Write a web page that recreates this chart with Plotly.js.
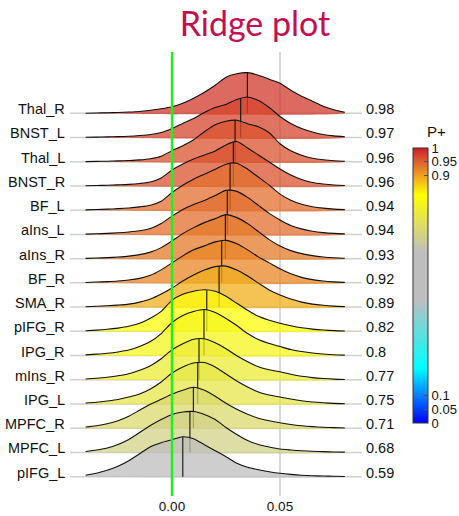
<!DOCTYPE html>
<html>
<head>
<meta charset="utf-8">
<script src="https://cdn.plot.ly/plotly-3.0.1.min.js"></script>
<style>html,body{margin:0;padding:0;background:#fff;}#chart{width:459px;height:516px;}</style>
</head>
<body>
<div id="chart"></div>
<script>
// ---- data ----
const categories = ['Thal_R','BNST_L','Thal_L','BNST_R','BF_L','aIns_L','aIns_R','BF_R','SMA_R','pIFG_R','IPG_R','mIns_R','IPG_L','MPFC_R','MPFC_L','pIFG_L'];
const pPlus = [0.98,0.97,0.96,0.96,0.94,0.94,0.93,0.92,0.89,0.82,0.8,0.77,0.75,0.71,0.68,0.59];
const pLabels = ['0.98','0.97','0.96','0.96','0.94','0.94','0.93','0.92','0.89','0.82','0.8','0.77','0.75','0.71','0.68','0.59'];
const medians = [0.0349,0.0318,0.0292,0.0284,0.0269,0.0256,0.0247,0.0230,0.0218,0.0161,0.0148,0.0125,0.0119,0.0099,0.0083,0.0050];
const xGrid = [-0.04,-0.035,-0.03,-0.025,-0.02,-0.015,-0.01,-0.005,0,0.005,0.01,0.015,0.02,0.025,0.03,0.035,0.04,0.045,0.05,0.055,0.06,0.065,0.07,0.075,0.08];

const dens_Thal_R = [0,0.3,0.5,0.8,1.2,1.8,3,4.5,6.5,10,15,21,28,36,39.5,40.6,38,34,30,23,17,12,7,3.5,1];
const dens_BNST_L = [0.2,0.4,0.6,0.9,1.3,2,3,5,9,14,19,25,30,33,38,40.5,37,30,21,14,9,5.5,3,1.6,0.8];
const dens_Thal_L = [0.1,0.3,0.5,0.8,1.2,1.8,3,5.5,11,16,22,30,37,40.5,41.5,38,35,29,18,11,6.5,3.5,2,1,0.5];
const dens_BNST_R = [0.2,0.4,0.7,1.1,1.6,2.5,4,8,16,22,27,31,35,41,44.5,38,31,24,17,11,6.5,3.5,2,1,0.5];
const dens_BF_L   = [0.3,0.6,1,1.5,2.2,3.3,5,9,17.7,25,31,36,41,46,47,41,33,25,16,10,6,3.5,2,1,0.5];
const dens_aIns_L = [0.3,0.6,1,1.6,2.4,3.6,6,11,18.3,25,30,34,39,44,43,37,29,21,14.5,9,5.5,3.2,1.8,1,0.5];
const dens_aIns_R = [0.3,0.6,1,1.6,2.5,4,6.5,11,17.7,25,31,36,40,44,41,35,27,19,12.6,8,5,3,1.7,0.9,0.4];
const dens_BF_R   = [0.4,0.8,1.2,1.8,2.8,4.5,7.5,13,20,27,33,37,41,42.5,39,33,26,20,14,9,5.5,3.2,1.8,1,0.5];
const dens_SMA_R  = [0.4,0.8,1.3,2,3,5,8,13,19,26,32,37,40.5,41,37,31,24,17,12,8,5,3,1.8,1,0.5];
const dens_pIFG_R = [0.6,1.2,2,3.2,5,8,13,20,31,37,40,41.5,40,35,28,21,15,11,8,5.5,3.5,2.2,1.3,0.7,0.3];
const dens_IPG_R  = [0.7,1.4,2.3,3.6,5.5,9,14,22,33,40,44,46,43,37,30,22,16,12,9,6,4,2.5,1.5,0.8,0.4];
const dens_mIns_R = [0.8,1.6,2.6,4,6,9.5,14,21,30,36,40.5,41,37,31,24,18,13,10,8,5.5,3.5,2.2,1.3,0.7,0.3];
const dens_IPG_L  = [1,1.8,3,4.5,7,10,15,22,31,37,41,41.5,37,30,23,17,12,9,7,5,3.3,2,1.2,0.6,0.3];
const dens_MPFC_R = [1.2,2.5,4.5,7.5,12,18,24,29,34,38,41,38,32,25,19,14,10,7.5,5.5,3.8,2.5,1.6,1,0.6,0.3];
const dens_MPFC_L = [1,2.5,4.5,8,13,20,27,33,38,40.5,41,38,33,25,18,12,8,5.5,3.5,2.5,1.7,1.2,0.8,0.5,0.3];
const dens_pIFG_L = [1.5,3.5,6.5,10.5,16,23,30,34,37,40,38,32,26,20,13.5,9.5,7,5,3.4,2.3,1.5,1,0.7,0.4,0.2];

const densities = [dens_Thal_R,dens_BNST_L,dens_Thal_L,dens_BNST_R,dens_BF_L,dens_aIns_L,dens_aIns_R,dens_BF_R,dens_SMA_R,dens_pIFG_R,dens_IPG_R,dens_mIns_R,dens_IPG_L,dens_MPFC_R,dens_MPFC_L,dens_pIFG_L];

const cbTicks = [0,0.05,0.1,0.9,0.95,1];
const cbTickText = ['0','0.05','0.1','0.9','0.95','1'];

// ---- styling / layout constants ----
const W = 459, H = 516;
const ML = 70, MR = 97, MT = 52, MB = 20;
const PW = W - ML - MR, PH = H - MT - MB;
const SPACING = 24.23;
const Y_LOW = -19.3, Y_HIGH = 424.7;
const FILL_ALPHA = 0.75;
const cstops = [
  [0,[0,0,255]],[0.2,[0,255,255]],[0.45,[190,190,190]],[0.62,[190,190,190]],
  [0.83,[255,255,0]],[0.9,[240,160,32]],[0.95,[224,96,48]],[1,[200,30,40]]
];
const colorscale = cstops.map(s => [s[0], 'rgb(' + s[1].join(',') + ')']);
function colorAt(p, a) {
  for (let i = 1; i < cstops.length; i++) {
    if (p <= cstops[i][0]) {
      const t = (p - cstops[i-1][0]) / (cstops[i][0] - cstops[i-1][0]);
      const c = cstops[i-1][1].map((v, j) => Math.round(v + t * (cstops[i][1][j] - v)));
      return 'rgba(' + c.join(',') + ',' + a + ')';
    }
  }
  return 'rgba(' + cstops[cstops.length-1][1].join(',') + ',' + a + ')';
}
function interp(xs, ys, x) {
  for (let i = 1; i < xs.length; i++) {
    if (x <= xs[i]) { const t = (x - xs[i-1]) / (xs[i] - xs[i-1]); return ys[i-1] + t * (ys[i] - ys[i-1]); }
  }
  return ys[ys.length-1];
}
const pxX = px => (px - ML) / PW;
const pxY = py => (H - MB - py) / PH;
const N = categories.length;
const xRange = [(ML - 172) / 2160, (W - MR - 172) / 2160];

const traces = [];
const shapes = [];
const annotations = [];
for (let k = 0; k < N; k++) {
  const base = (N - 1 - k) * SPACING;
  const d = densities[k];
  const top = d.map(v => base + v);
  shapes.push({type:'line', xref:'paper', x0:0, x1:1, yref:'y', y0:base, y1:base, layer:'below',
               line:{color:'#d0d0d0', width:1.5}});
  traces.push({type:'scatter', mode:'lines', x: xGrid.concat([xGrid[xGrid.length-1], xGrid[0]]),
               y: top.concat([base, base]), fill:'toself',
               fillcolor: colorAt(pPlus[k], FILL_ALPHA), line:{width:0, shape:'spline', smoothing:0.7}, hoverinfo:'skip', showlegend:false});
  traces.push({type:'scatter', mode:'lines', x: xGrid, y: top, line:{color:'#111', width:1.1, shape:'spline', smoothing:0.7},
               hoverinfo:'skip', showlegend:false});
  const mTop = base + interp(xGrid, d, medians[k]);
  traces.push({type:'scatter', mode:'lines', x:[medians[k], medians[k]], y:[base, mTop],
               line:{color:'#111', width:1.1}, hoverinfo:'skip', showlegend:false});
  annotations.push({xref:'paper', x:0, xanchor:'right', xshift:-3, yref:'y', y:base, yanchor:'middle', yshift:4,
                    text: categories[k], showarrow:false, font:{size:14.5, color:'#111'}});
  annotations.push({xref:'paper', x:1, xanchor:'left', xshift:2, yref:'y', y:base, yanchor:'middle', yshift:4,
                    text: pLabels[k], showarrow:false, font:{size:14.5, color:'#111'}});
}
// colorbar carrier (invisible markers)
traces.push({type:'scatter', mode:'markers', x: medians, y: medians.map(() => Y_LOW - 50), hoverinfo:'skip', showlegend:false,
  marker:{size:1, opacity:0, color:pPlus, colorscale:colorscale, cmin:0, cmax:1, showscale:true,
    colorbar:{x:pxX(413), xanchor:'left', xpad:0, y:pxY(148), yanchor:'top', ypad:0,
      thickness:15, thicknessmode:'pixels', len:275/PH, lenmode:'fraction', outlinewidth:1, outlinecolor:'#333',
      tickmode:'array', tickvals:cbTicks, ticktext:cbTickText, ticks:'inside', ticklen:4, tickcolor:'#555',
      tickfont:{size:13, color:'#111'}}}});

// vertical reference lines
shapes.push({type:'line', xref:'x', x0:0.05, x1:0.05, yref:'paper', y0:0, y1:1, layer:'below', line:{color:'#cccccc', width:1.5}});
shapes.push({type:'line', xref:'x', x0:0, x1:0, yref:'paper', y0:0, y1:1, layer:'above', line:{color:'#22ee22', width:2.5}});

// P+ title
annotations.push({xref:'paper', x:pxX(425), xanchor:'left', yref:'paper', y:pxY(131),
  yanchor:'middle', text:'P+', showarrow:false, font:{size:15, color:'#111'}});

const layout = {
  width: W, height: H,
  margin: {l:ML, r:MR, t:MT, b:MB, autoexpand:false},
  paper_bgcolor:'#fff', plot_bgcolor:'rgba(0,0,0,0)',
  font: {family:'"Liberation Sans", Arial, sans-serif', color:'#111'},
  title: {text:'Ridge plot', xref:'container', x:255/W, xanchor:'center', yref:'container', y:1-24/H, yanchor:'middle',
          font:{family:'Lato, "Liberation Sans", sans-serif', size:34, color:'#c3104f'}},
  xaxis: {range:xRange, tickmode:'array', tickvals:[0,0.05], ticktext:['0.00','0.05'], showgrid:false, zeroline:false,
          showline:false, ticks:'', tickfont:{size:13.5, color:'#111'}, fixedrange:true},
  yaxis: {range:[Y_LOW, Y_HIGH], visible:false, fixedrange:true},
  shapes: shapes, annotations: annotations, showlegend:false
};
Plotly.newPlot('chart', traces, layout, {displayModeBar:false, staticPlot:true});
</script>
</body>
</html>
